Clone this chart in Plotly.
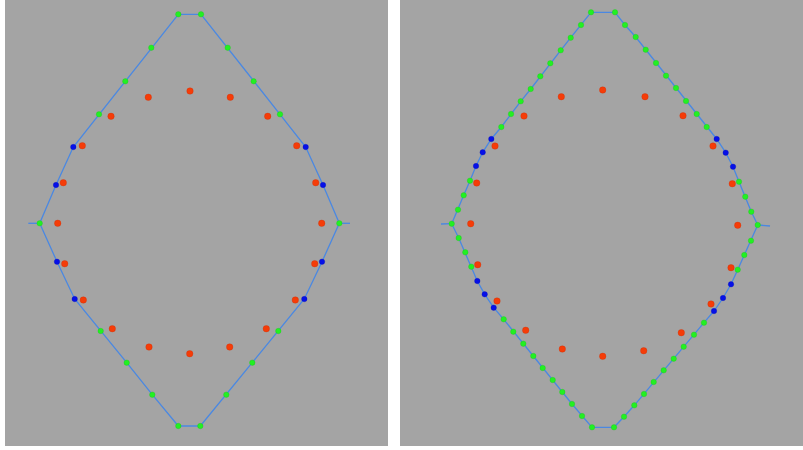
import plotly.graph_objects as go

# ---- Left panel (coordinates, panel units, y downward) ----
left_outline_x = [34.7, 51, 68.3, 94, 120.3, 146.3, 173.3, 196, 222.7, 248.7, 275, 300.7, 318, 334.3,
                  317, 299.3, 273.3, 247.3, 221.3, 195.3, 173.3, 147.3, 121.7, 95.7, 69.7, 52]
left_outline_y = [223.3, 185, 147, 114.3, 81.3, 47.7, 14.3, 14.3, 47.7, 81.3, 114.3, 147, 185, 223.3,
                  261.7, 299, 331, 362.7, 394.7, 426, 426, 394.7, 362.7, 331, 299, 261.7]
left_outline_kind = ["G", "B", "B", "G", "G", "G", "G", "G", "G", "G", "G", "B", "B", "G",
                     "B", "B", "G", "G", "G", "G", "G", "G", "G", "G", "B", "B"]
left_stub_x = [23.3, 345]
left_stub_y = [223.3, 223.3]
left_red_x = [185, 143.3, 225.3, 106, 262.7, 77.3, 291.7, 58.3, 310.7, 52.7, 316.7,
              59.7, 78.3, 107.3, 144, 184.7, 224.7, 261.3, 290.3, 309.7]
left_red_y = [91, 97.3, 97.3, 116.3, 116.3, 145.7, 145.7, 182.7, 182.7, 223.3, 223.3,
              263.7, 300, 328.7, 347, 353.7, 347, 328.7, 300, 263.7]

# ---- Right panel ----
right_outline_x = [51.7, 58, 63.7, 70, 76, 82.7, 91.3, 101.3, 111, 120.7, 130.7, 140.3, 150.3, 160.7,
                   170.7, 181, 191, 215, 225, 235.7, 245.7, 256, 266, 276, 286, 296.7, 306.7, 316.7,
                   325.7, 333, 339, 345.3, 351.3, 357.7,
                   351, 344.3, 337.7, 331, 323, 314, 304, 294, 283.7, 273.7, 263.7, 253.7, 244,
                   234.3, 224, 214, 192, 182, 172, 162.3, 152.7, 142.7, 133.3, 123.3, 113.3,
                   103.7, 93.7, 84.7, 77.3, 71.3, 65.3, 58.7]
right_outline_y = [223.7, 209.7, 195.3, 180.7, 166, 152.3, 139, 127, 114, 101.3, 89, 76.3, 63.3, 50.3,
                   37.7, 25, 12.3, 12.3, 25, 37, 49.7, 63, 75.7, 88, 101, 114, 127, 139,
                   152.7, 166.7, 181.7, 196.7, 211.7, 225,
                   240.7, 255, 269.7, 284.3, 298, 311, 322.7, 334.7, 346.7, 358.7, 370.3, 382, 394,
                   405.3, 416.7, 427.3, 427.3, 416, 404, 392, 380, 368, 356, 343.7, 331.7,
                   319.3, 307.7, 294.3, 281, 266.7, 252.3, 238]
right_outline_kind = ["G", "G", "G", "G", "B", "B", "B", "G", "G", "G", "G", "G", "G", "G",
                      "G", "G", "G", "G", "G", "G", "G", "G", "G", "G", "G", "G", "G", "B",
                      "B", "B", "G", "G", "G", "G",
                      "G", "G", "G", "B", "B", "B", "G", "G", "G", "G", "G", "G", "G",
                      "G", "G", "G", "G", "G", "G", "G", "G", "G", "G", "G", "G",
                      "G", "B", "B", "B", "G", "G", "G"]
right_stub_x = [41, 370]
right_stub_y = [224, 226]
right_red_x = [202.7, 161.3, 245, 124, 283, 95, 313, 76.7, 332.3, 70.7, 337.7,
               77.7, 97, 125.7, 162.3, 202.7, 243.7, 281.3, 311, 331]
right_red_y = [90, 96.7, 96.7, 116, 115.7, 146, 146, 183, 183.7, 223.7, 225.3,
               264.7, 301, 330.3, 349, 356.3, 350.7, 332.7, 304, 267.7]

LINE = "#4a88e2"
GREEN = "#22f022"
BLUE = "#0610e8"
RED = "#f53c08"

fig = go.Figure()


def add_panel(ox, oy, kinds, sx, sy, rx, ry, xa, ya):
    # closed outline loop
    fig.add_trace(go.Scatter(x=list(ox) + [ox[0]], y=list(oy) + [oy[0]], mode="lines",
                             line=dict(color=LINE, width=1.3), xaxis=xa, yaxis=ya,
                             hoverinfo="skip"))
    # stubs: left stub to leftmost outline point, right stub to rightmost
    li = min(range(len(ox)), key=lambda i: ox[i])
    ri = max(range(len(ox)), key=lambda i: ox[i])
    fig.add_trace(go.Scatter(x=[sx[0], ox[li], None, ox[ri], sx[1]],
                             y=[sy[0], oy[li], None, oy[ri], sy[1]], mode="lines",
                             line=dict(color=LINE, width=1.3), xaxis=xa, yaxis=ya,
                             hoverinfo="skip"))
    gx = [x for x, k in zip(ox, kinds) if k == "G"]
    gy = [y for y, k in zip(oy, kinds) if k == "G"]
    bx = [x for x, k in zip(ox, kinds) if k == "B"]
    by = [y for y, k in zip(oy, kinds) if k == "B"]
    fig.add_trace(go.Scatter(x=gx, y=gy, mode="markers", xaxis=xa, yaxis=ya,
                             marker=dict(color=GREEN, size=5.5, line=dict(color="#18c018", width=0.3))))
    fig.add_trace(go.Scatter(x=bx, y=by, mode="markers", xaxis=xa, yaxis=ya,
                             marker=dict(color=BLUE, size=5.5, line=dict(color="#0008b0", width=0.3))))
    fig.add_trace(go.Scatter(x=rx, y=ry, mode="markers", xaxis=xa, yaxis=ya,
                             marker=dict(color=RED, size=6.5, line=dict(color="#c82800", width=0.3))))


add_panel(left_outline_x, left_outline_y, left_outline_kind, left_stub_x, left_stub_y,
          left_red_x, left_red_y, "x", "y")
add_panel(right_outline_x, right_outline_y, right_outline_kind, right_stub_x, right_stub_y,
          right_red_x, right_red_y, "x2", "y2")

W, H = 803, 450
axis_common = dict(showgrid=False, zeroline=False, showticklabels=False, ticks="",
                   showline=False, fixedrange=True)
fig.update_layout(
    width=W, height=H,
    margin=dict(l=0, r=0, t=0, b=0),
    paper_bgcolor="white",
    plot_bgcolor="#a4a4a4",
    showlegend=False,
    xaxis=dict(domain=[5 / W, 388 / W], range=[0, 383], **axis_common),
    yaxis=dict(domain=[4 / H, 1], range=[446, 0], **axis_common),
    xaxis2=dict(domain=[400 / W, 1], range=[0, 403], **axis_common),
    yaxis2=dict(domain=[4 / H, 1], range=[446, 0], anchor="x2", **axis_common),
)
fig.write_html("out.html", config={"displayModeBar": False},
               post_script="document.body.style.margin='0';document.body.style.overflow='hidden';")
